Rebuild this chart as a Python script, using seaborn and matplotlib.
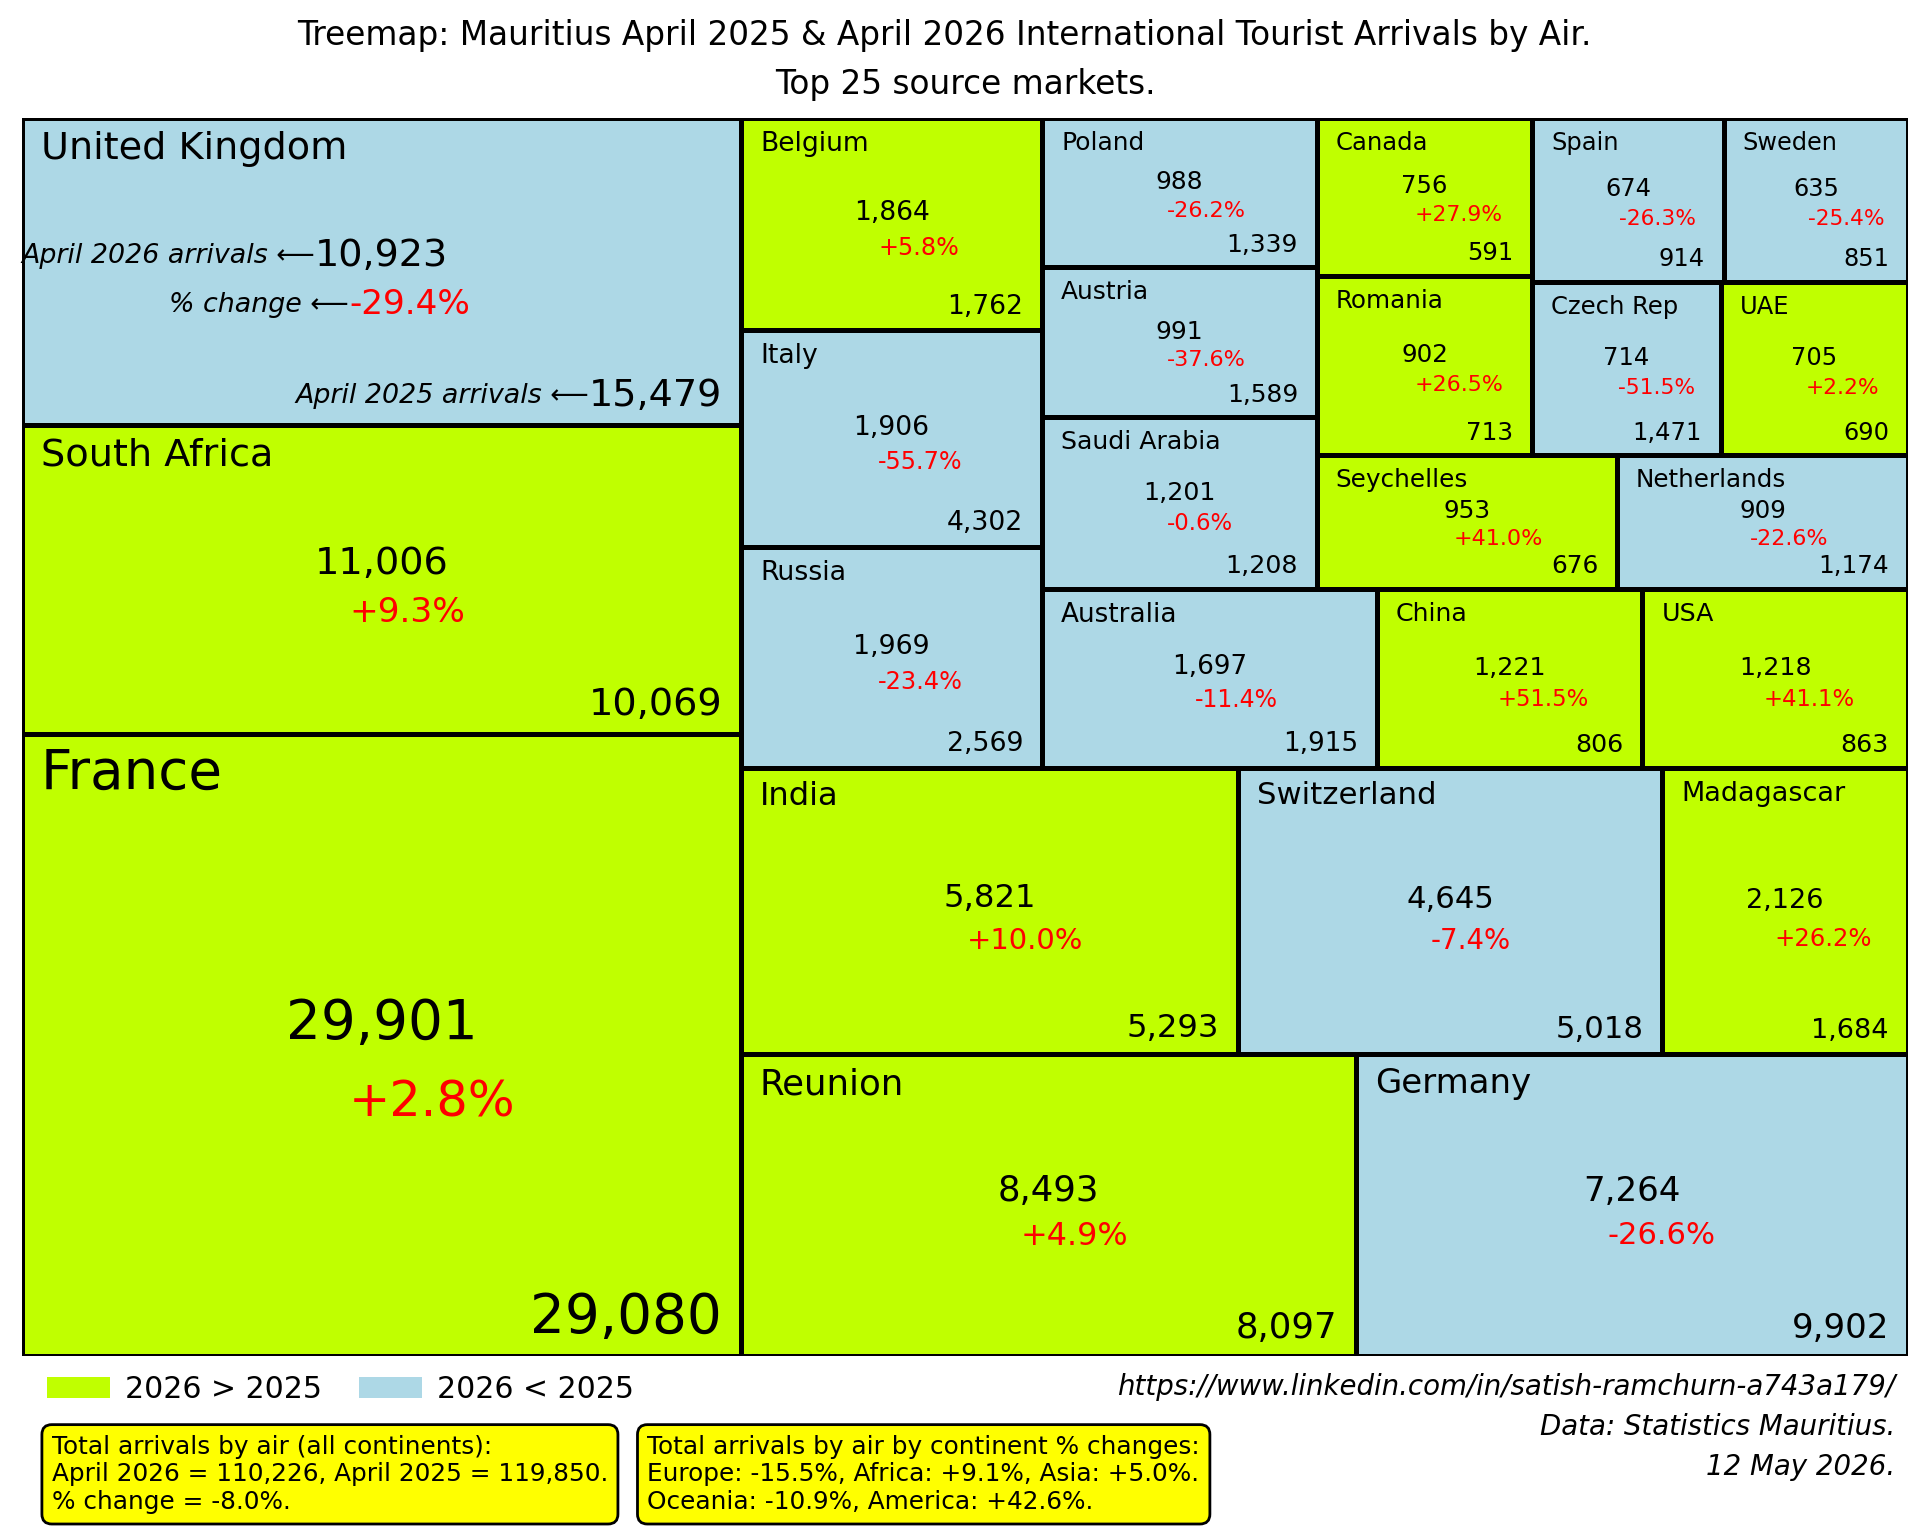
import matplotlib
matplotlib.use("Agg")
import matplotlib.pyplot as plt
from matplotlib.patches import Patch
import seaborn as sns

# top 25 source markets, ordered by April 2026 arrivals
COUNTRIES = ["France", "South Africa", "United Kingdom", "Reunion", "Germany",
             "India", "Switzerland", "Madagascar", "Russia", "Italy", "Belgium",
             "Australia", "China", "USA", "Saudi Arabia", "Austria", "Poland",
             "Seychelles", "Netherlands", "Romania", "Canada", "Czech Rep",
             "UAE", "Spain", "Sweden"]
ARR_2026 = [29901, 11006, 10923, 8493, 7264, 5821, 4645, 2126, 1969, 1906,
            1864, 1697, 1221, 1218, 1201, 991, 988, 953, 909, 902, 756, 714,
            705, 674, 635]
ARR_2025 = [29080, 10069, 15479, 8097, 9902, 5293, 5018, 1684, 2569, 4302,
            1762, 1915, 806, 863, 1208, 1589, 1339, 676, 1174, 713, 591, 1471,
            690, 914, 851]

TOTAL_2026 = 110226
TOTAL_2025 = 119850
CONTINENTS = ["Europe", "Africa", "Asia", "Oceania", "America"]
CONTINENT_PCT = [-15.5, 9.1, 5.0, -10.9, 42.6]

GREEN = "#c0ff00"
BLUE = "#add8e6"
SIZE_POWER = 0.7


# --- squarified treemap layout (Bruls et al.), y axis pointing up ---
def layout_row(sizes, x, y, dx, dy):
    width = sum(sizes) / dy
    rects = []
    for s in sizes:
        rects.append((x, y, width, s / width))
        y += s / width
    return rects


def layout_col(sizes, x, y, dx, dy):
    height = sum(sizes) / dx
    rects = []
    for s in sizes:
        rects.append((x, y, s / height, height))
        x += s / height
    return rects


def layout(sizes, x, y, dx, dy):
    if dx >= dy:
        return layout_row(sizes, x, y, dx, dy)
    return layout_col(sizes, x, y, dx, dy)


def leftover(sizes, x, y, dx, dy):
    covered = sum(sizes)
    if dx >= dy:
        width = covered / dy
        return x + width, y, dx - width, dy
    height = covered / dx
    return x, y + height, dx, dy - height


def worst_ratio(sizes, x, y, dx, dy):
    return max(max(w / h, h / w) for (_, _, w, h) in layout(sizes, x, y, dx, dy))


def squarify(sizes, x, y, dx, dy):
    if not sizes:
        return []
    if len(sizes) == 1:
        return layout(sizes, x, y, dx, dy)
    i = 1
    while i < len(sizes) and worst_ratio(sizes[:i], x, y, dx, dy) >= worst_ratio(sizes[:i + 1], x, y, dx, dy):
        i += 1
    current, remaining = sizes[:i], sizes[i:]
    lx, ly, ldx, ldy = leftover(current, x, y, dx, dy)
    return layout(current, x, y, dx, dy) + squarify(remaining, lx, ly, ldx, ldy)


sns.set_style("white")
plt.rcParams["font.family"] = ["DejaVu Sans"]
plt.rcParams["text.color"] = "black"

weights = [v ** SIZE_POWER for v in ARR_2026]
total_w = sum(weights)
areas = [w * 100 * 100 / total_w for w in weights]
rects = squarify(areas, 0, 0, 100, 100)

fig = plt.figure(figsize=(9.645, 7.68), dpi=200)
ax = fig.add_axes([0.0113, 0.1175, 0.9777, 0.806])

xs = [r[0] for r in rects]
ys = [r[1] for r in rects]
ws = [r[2] for r in rects]
hs = [r[3] for r in rects]
colors = [GREEN if a > b else BLUE for a, b in zip(ARR_2026, ARR_2025)]

ax.bar(xs, hs, width=ws, bottom=ys, align="edge", color=colors,
       edgecolor="black", linewidth=1.8)
ax.set_xlim(0, 100)
ax.set_ylim(0, 100)
ax.axis("off")

for name, v26, v25, area, (x, y, dx, dy) in zip(COUNTRIES, ARR_2026, ARR_2025, areas, rects):
    fs = 7.85 + 0.0062 * area
    pct = (v26 - v25) / v25 * 100
    ax.text(x + 1.0, y + dy - 1.05, name, ha="left", va="top", fontsize=fs)
    t_now = ax.text(x + dx / 2, y + dy * 0.49, f"{v26:,}", ha="center",
                    va="bottom", fontsize=fs)
    t_pct = ax.text(x + dx * 0.455, y + dy * 0.445, f"{pct:+.1f}%", ha="left",
                    va="top", fontsize=fs * 0.9, color="red")
    t_prev = ax.text(x + dx - 1.0, y + 0.85, f"{v25:,}", ha="right",
                     va="bottom", fontsize=fs)
    if name == "United Kingdom":
        for txt, label in [(t_now, "April 2026 arrivals \u27f5"),
                           (t_pct, "% change \u27f5"),
                           (t_prev, "April 2025 arrivals \u27f5")]:
            ax.annotate(label, xy=(0, 0.5), xycoords=txt, ha="right",
                        va="center", fontsize=9.7, style="italic")

fig.text(0.4895, 0.9705,
         "Treemap: Mauritius April 2025 & April 2026 International Tourist Arrivals by Air.",
         ha="center", va="baseline", fontsize=11.8)
fig.text(0.5006, 0.9385, "Top 25 source markets.", ha="center",
         va="baseline", fontsize=11.8)

handles = [Patch(facecolor=GREEN, edgecolor="none", label="2026 > 2025"),
           Patch(facecolor=BLUE, edgecolor="none", label="2026 < 2025")]
fig.legend(handles=handles, loc="center left", bbox_to_anchor=(0.0184, 0.0955),
           ncol=2, frameon=False, fontsize=10.8, handlelength=2.08,
           handleheight=0.7, handletextpad=0.5, columnspacing=1.25,
           borderaxespad=0)

# last line baseline of the multi-line credits
fig.text(0.9825, 0.0397,
         "https://www.linkedin.com/in/satish-ramchurn-a743a179/\n"
         "Data: Statistics Mauritius.\n12 May 2026.",
         ha="right", va="baseline", fontsize=9.95, style="italic",
         linespacing=1.55)

box = dict(boxstyle="round,pad=0.4", facecolor="yellow", edgecolor="black",
           linewidth=1.0)
total_pct = (TOTAL_2026 - TOTAL_2025) / TOTAL_2025 * 100
fig.text(0.02685, 0.0175,
         "Total arrivals by air (all continents):\n"
         f"April 2026 = {TOTAL_2026:,}, April 2025 = {TOTAL_2025:,}.\n"
         f"% change = {total_pct:.1f}%.",
         ha="left", va="baseline", fontsize=8.9, bbox=box)
cont = [f"{c}: {p:+.1f}%" for c, p in zip(CONTINENTS, CONTINENT_PCT)]
fig.text(0.3356, 0.0175,
         "Total arrivals by air by continent % changes:\n"
         f"{cont[0]}, {cont[1]}, {cont[2]}.\n{cont[3]}, {cont[4]}.",
         ha="left", va="baseline", fontsize=8.9, bbox=box)

fig.savefig("out.png", dpi=200)
